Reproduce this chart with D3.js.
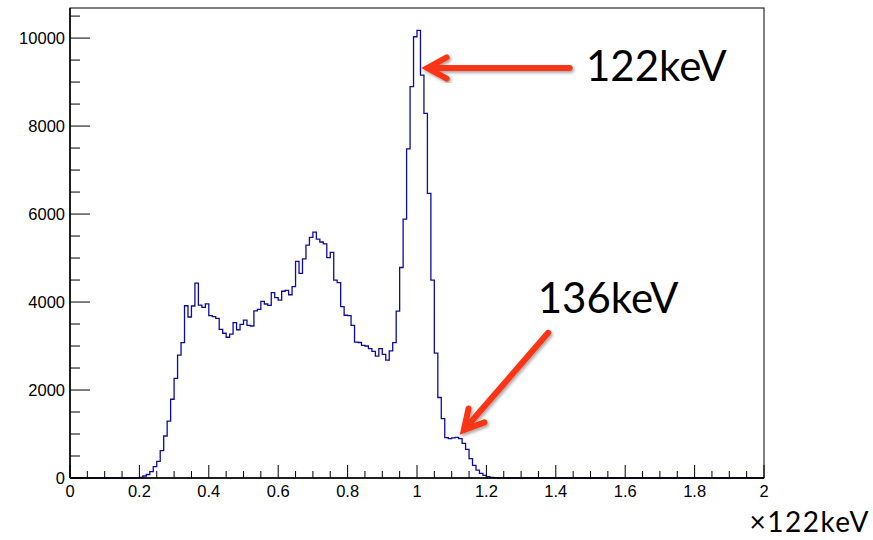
<!DOCTYPE html>
<html>
<head>
<meta charset="utf-8">
<script src="https://cdn.jsdelivr.net/npm/d3@7"></script>
<style>
  body { margin: 0; background: white; }
  svg { display: block; }
</style>
</head>
<body>
<svg id="chart" width="873" height="540"></svg>
<script>
// histogram: 200 bins of 0.01 between 0 and 2 (units of 122keV)
const binWidth = 0.01;
const xRange = [0, 2];
const firstBinLow = 0.18;
// counts, one per bin starting at firstBinLow
const counts = [
  3, 6, 15, 45, 80, 145, 260, 380, 620, 955,
  1295, 1790, 2265, 2795, 3075, 3915, 3660, 3910, 4430, 3930,
  3880, 3960, 3690, 3670, 3630, 3380, 3290, 3200, 3270, 3530,
  3370, 3490, 3590, 3470, 3455, 3800, 3835, 4015, 3955, 3925,
  4215, 4100, 4045, 4245, 4265, 4165, 4350, 4925, 4650, 4980,
  5295, 5470, 5590, 5430, 5365, 5320, 5010, 5130, 4500, 4440,
  3895, 3700, 3690, 3470, 3090, 3080, 3015, 3000, 2940, 2880,
  2770, 2940, 2810, 2680, 2890, 3075, 3795, 4785, 5885, 7480,
  8895, 10030, 10175, 9160, 8290, 6470, 4500, 2840, 1830, 1350,
  917, 893, 910, 925, 893, 788, 650, 440, 288, 180,
  105, 60, 30, 15, 8, 4, 2
];
const xTicks = [0, 0.2, 0.4, 0.6, 0.8, 1, 1.2, 1.4, 1.6, 1.8, 2];
const yTicks = [0, 2000, 4000, 6000, 8000, 10000];
const xUnit = "\u00d7122keV";

// annotations: arrow tip / tail in data units, label position
const arrows = [
  { label: "122keV", tip: [1.03, 9320], tail: [1.44, 9320], text: [1.487, 9020] },
  { label: "136keV", tip: [1.135, 1090], tail: [1.378, 3300], text: [1.348, 3760] }
];

const margin = { left: 70, right: 109, top: 8, bottom: 62 };
const svg = d3.select("#chart");
const W = +svg.attr("width"), H = +svg.attr("height");

const yMax = d3.max(counts) * 1.05;
const x = d3.scaleLinear().domain(xRange).range([margin.left, W - margin.right]);
const y = d3.scaleLinear().domain([0, yMax]).range([H - margin.bottom, margin.top]);

// full set of bins (zero outside the filled part)
const nBins = Math.round((xRange[1] - xRange[0]) / binWidth);
const offset = Math.round((firstBinLow - xRange[0]) / binWidth);
const bins = d3.range(nBins).map(i => ({
  x0: xRange[0] + i * binWidth,
  x1: xRange[0] + (i + 1) * binWidth,
  v: counts[i - offset] || 0
}));

// step outline
let d = "M" + x(bins[0].x0) + "," + y(0);
bins.forEach(b => {
  d += "L" + x(b.x0) + "," + y(b.v) + "L" + x(b.x1) + "," + y(b.v);
});
d += "L" + x(xRange[1]) + "," + y(0);

svg.append("path")
  .attr("d", d)
  .attr("fill", "none")
  .attr("stroke", "#0c0ca0")
  .attr("stroke-width", 1.3);

// frame
svg.append("rect")
  .attr("x", x(xRange[0]))
  .attr("y", y(yMax))
  .attr("width", x(xRange[1]) - x(xRange[0]))
  .attr("height", y(0) - y(yMax))
  .attr("fill", "none")
  .attr("stroke", "black")
  .attr("stroke-width", 1);

const font = "'Liberation Sans', Arial, sans-serif";

// x axis ticks
const xAxis = svg.append("g").attr("transform", "translate(0," + y(0) + ")");
xAxis.selectAll("line.minor")
  .data(d3.range(0, 41).map(i => i * 0.05))
  .join("line")
  .attr("x1", v => x(v)).attr("x2", v => x(v))
  .attr("y1", 0)
  .attr("y2", (v, i) => i % 4 === 0 ? -13 : -7)
  .attr("stroke", "black").attr("stroke-width", 1);
xAxis.append("line")
  .attr("x1", x(xRange[0])).attr("x2", x(xRange[1]))
  .attr("stroke", "black").attr("stroke-width", 1.5);
xAxis.selectAll("text")
  .data(xTicks)
  .join("text")
  .attr("x", v => x(v))
  .attr("y", 19)
  .attr("text-anchor", "middle")
  .style("font-family", font)
  .style("font-size", "16.5px")
  .text(v => d3.format("")(v));

// y axis ticks
const yAxis = svg.append("g").attr("transform", "translate(" + x(0) + ",0)");
yAxis.selectAll("line")
  .data(d3.range(0, 22).map(i => i * 500))
  .join("line")
  .attr("x1", 0)
  .attr("x2", (v, i) => i % 4 === 0 ? 20 : 10)
  .attr("y1", v => y(v)).attr("y2", v => y(v))
  .attr("stroke", "black").attr("stroke-width", 1);
yAxis.append("line")
  .attr("y1", y(0)).attr("y2", y(yMax))
  .attr("stroke", "black").attr("stroke-width", 1.5);
yAxis.selectAll("text")
  .data(yTicks)
  .join("text")
  .attr("x", -5)
  .attr("y", v => y(v) + 6)
  .attr("text-anchor", "end")
  .style("font-family", font)
  .style("font-size", "16.5px")
  .text(v => v);

// axis unit bottom right
svg.append("text")
  .attr("x", 870)
  .attr("y", 532)
  .attr("text-anchor", "end")
  .style("font-family", "Lato, sans-serif")
  .style("font-size", "28px")
  .style("letter-spacing", "1.5px")
  .text(xUnit);

// arrows with shadow
const defs = svg.append("defs");
defs.append("filter").attr("id", "shadow")
  .attr("x", "-20%").attr("y", "-20%").attr("width", "140%").attr("height", "140%")
  .append("feDropShadow")
  .attr("dx", 1.5).attr("dy", 2).attr("stdDeviation", 1.5)
  .attr("flood-color", "#000").attr("flood-opacity", 0.35);

arrows.forEach(a => {
  const tx = x(a.tip[0]), ty = y(a.tip[1]);
  const sx = x(a.tail[0]), sy = y(a.tail[1]);
  const ang = Math.atan2(sy - ty, sx - tx);
  const head = 22, spread = 0.5;
  const w1 = [tx + head * Math.cos(ang + spread), ty + head * Math.sin(ang + spread)];
  const w2 = [tx + head * Math.cos(ang - spread), ty + head * Math.sin(ang - spread)];
  const g = svg.append("g").attr("filter", "url(#shadow)");
  g.append("path")
    .attr("d", "M" + sx + "," + sy + "L" + (tx + 3 * Math.cos(ang)) + "," + (ty + 3 * Math.sin(ang)) +
      "M" + w1 + "L" + tx + "," + ty + "L" + w2)
    .attr("fill", "none")
    .attr("stroke", "#fa3614")
    .attr("stroke-width", 6)
    .attr("stroke-linecap", "round")
    .attr("stroke-linejoin", "miter");
  svg.append("text")
    .attr("x", x(a.text[0]))
    .attr("y", y(a.text[1]))
    .style("font-family", "Lato, sans-serif")
    .style("font-size", "42px")
    .text(a.label);
});
</script>
</body>
</html>
